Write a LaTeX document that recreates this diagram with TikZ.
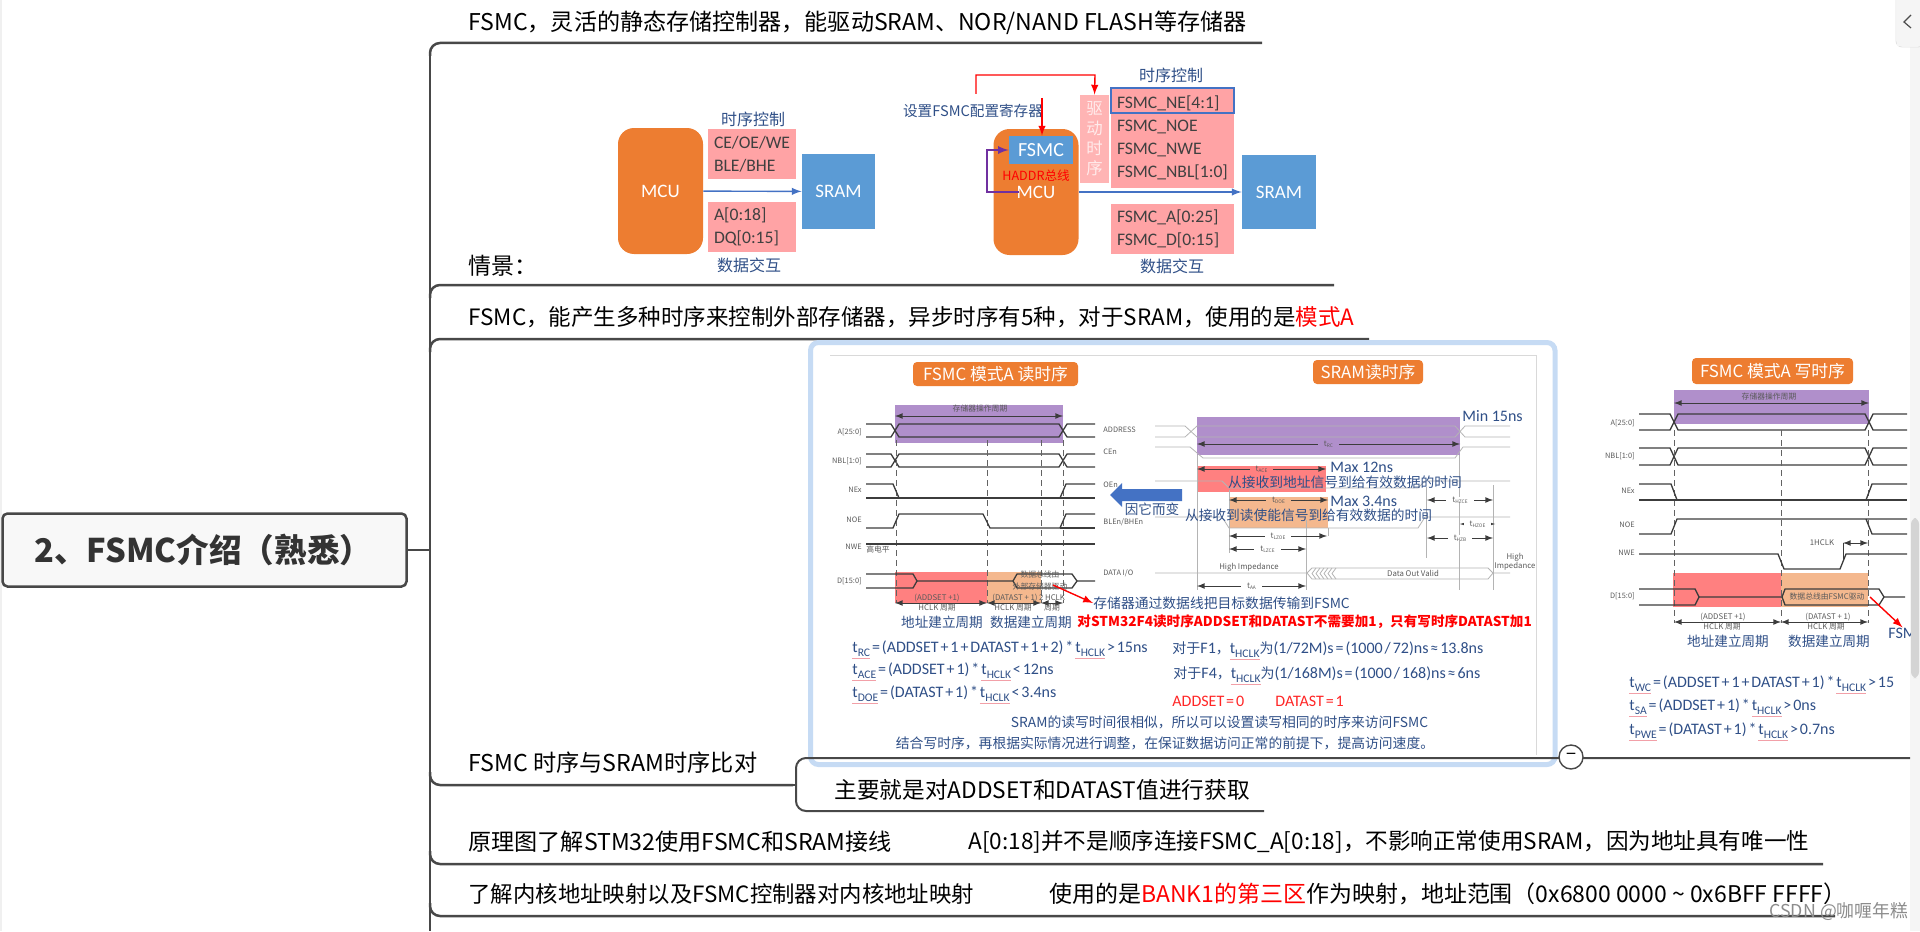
\documentclass[tikz,border=0pt]{standalone}
\usepackage{fontspec}
\setmainfont{Noto Sans CJK SC}
\newfontfamily\lat{Carlito}
\definecolor{linedark}{HTML}{484848}
\definecolor{rootfill}{HTML}{F8F8F8}
\definecolor{framecol}{HTML}{C6DBF4}
\definecolor{orangebox}{HTML}{ED7D31}
\definecolor{bluebox}{HTML}{5B9BD5}
\definecolor{blueline}{HTML}{4472C4}
\definecolor{pinkbox}{HTML}{FFA3A5}
\definecolor{pinklight}{HTML}{FFB4B4}
\definecolor{labelblue}{HTML}{2F4F87}
\definecolor{purplebar}{HTML}{B08FCB}
\definecolor{purpleline}{HTML}{7030A0}
\definecolor{redarea}{HTML}{FF8080}
\definecolor{orangearea}{HTML}{F4B88E}
\definecolor{wavecol}{HTML}{3C3C3C}
\definecolor{sramwave}{HTML}{B4B4B4}
\definecolor{tinytext}{HTML}{5A5A5A}
\definecolor{squiggle}{HTML}{F2A0A8}
\newcommand{\fs}[1]{\fontsize{#1}{#1}\selectfont}
\newcommand{\formfont}{\lat\fs{8}\spaceskip 0.12em\relax}
\newsavebox{\subbox}
\newcommand{\tsub}[1]{\sbox{\subbox}{t\raisebox{-2pt}{\fs{5.8}#1}}\usebox{\subbox}\llap{\color{squiggle}\rule[-3pt]{\wd\subbox}{0.5pt}}}
\newcommand{\tsm}[1]{t\raisebox{-0.5pt}{\fs{2.4}#1}}
\begin{document}
\begin{tikzpicture}[x=0.5pt, y=-0.5pt, every node/.style={inner sep=0pt},
    branchline/.style={draw=linedark, line width=1.25pt},
    twig/.style={draw=linedark, line width=0.8pt},
    branchtext/.style={anchor=west, text=black},
    orangeblock/.style={fill=orangebox, rounded corners=8pt, text=white, font=\lat\fs{9.5}},
    blueblock/.style={fill=bluebox, text=white, font=\lat\fs{9.5}},
    pinkblock/.style={fill=pinkbox, align=left, text=black!75, font=\lat\fontsize{8.8}{11.6}\selectfont},
    navylabel/.style={text=labelblue, font=\fs{8}},
    bluearrow/.style={draw=blueline, line width=0.7pt, -latex},
    redarrow/.style={draw=red, line width=0.7pt, -latex},
    badge/.style={fill=orangebox, rounded corners=2pt, text=white, font=\fs{8.4}},
    tinylabel/.style={text=tinytext, font=\fs{3.9}},
    signame/.style={anchor=east, text=tinytext, font=\fs{3.7}},
    sramname/.style={anchor=west, text=tinytext, font=\fs{3.7}},
    wave/.style={draw=wavecol, line width=0.65pt},
    sramline/.style={draw=sramwave, line width=0.4pt},
    dashline/.style={draw=wavecol!80, line width=0.35pt, densely dashed},
    tinyarrow/.style={draw=wavecol, line width=0.35pt, latex-latex},
    stepname/.style={text=labelblue, font=\fs{6.8}},
    blueformula/.style={anchor=west, text=labelblue, font=\formfont}]
    \useasboundingbox (0,0) rectangle (1920,931);
    \fill[black!6] (0,0) rectangle (2,931);
    \fill[black!4] (1910,47) rectangle (1920,931);

    \node[draw=linedark, line width=1.25pt, fill=rootfill, rounded corners=2.5pt, minimum width=202pt, minimum height=36.5pt] (root) at (204.5,550) {};
    \node[anchor=west, font=\bfseries\fs{16.3}, text=black!80] (roottext) at (34,550) {2、FSMC介绍（熟悉）};
    \coordinate (spinejoin) at (430,550);
    \coordinate (spinetop) at (430,55);
    \coordinate (spineend) at (430,931);
    \draw[twig] (root) -- (spinejoin);
    \draw[branchline] (spinetop) -- (spineend);

    \foreach \y/\xe/\n in {43/1262/a,285/1334/b,339/1369/c}{
        \coordinate (branch\n) at (\xe,\y);
        \draw[branchline, rounded corners=5pt] (430,\y+13) |- (branch\n);
    }
    \foreach \y/\xe/\n in {785/793/d,864/1823/e,916/1835/f}{
        \coordinate (branch\n) at (\xe,\y);
        \draw[branchline, rounded corners=5pt] (430,\y-13) |- (branch\n);
    }

    \node[branchtext, font=\fs{11.54}] (introtext) at (468,23) {FSMC，灵活的静态存储控制器，能驱动SRAM、NOR/NAND FLASH等存储器};
    \node[branchtext, font=\fs{11.5}] (scenetext) at (468,266) {情景：};
    \node[branchtext, font=\fs{11.25}] (modetext) at (468,317) {FSMC，能产生多种时序来控制外部存储器，异步时序有5种，对于SRAM，使用的是{\color{red}模式A}};
    \node[branchtext, font=\fs{11.6}] (comparetext) at (468,763) {FSMC 时序与SRAM时序比对};
    \node[branchtext, font=\fs{11.33}] (valuetext) at (834,790) {主要就是对ADDSET和DATAST值进行获取};
    \node[branchtext, font=\fs{11.56}] (wiretext) at (468,842) {原理图了解STM32使用FSMC和SRAM接线};
    \node[branchtext, font=\fs{11.29}] (wirenote) at (968,842) {A[0:18]并不是顺序连接FSMC\_A[0:18]，不影响正常使用SRAM，因为地址具有唯一性};
    \node[branchtext, font=\fs{11.2}] (maptext) at (468,894) {了解内核地址映射以及FSMC控制器对内核地址映射};
    \node[branchtext, font=\fs{11.48}] (mapnote) at (1049,894) {使用的是{\color{red}BANK1的第三区}作为映射，地址范围（0x6800 0000 \textasciitilde{} 0x6BFF FFFF）};

    \node[orangeblock, minimum width=42.5pt, minimum height=63pt] (mcua) at (660.5,191) {MCU};
    \node[blueblock, minimum width=36.5pt, minimum height=37.5pt] (srama) at (838.5,191.5) {SRAM};
    \node[pinkblock, minimum width=44pt, minimum height=25pt, text width=38pt] (ctrla) at (752,154) {CE/OE/WE\\BLE/BHE};
    \node[pinkblock, minimum width=44pt, minimum height=25pt, text width=38pt] (dataa) at (752,227) {A[0:18]\\DQ[0:15]};
    \node[navylabel] (ctrlnamea) at (753,119) {时序控制};
    \node[navylabel] (datanamea) at (749,265) {数据交互};
    \draw[bluearrow] (mcua) -- (srama);

    \node[orangeblock, minimum width=42.5pt, minimum height=63pt] (mcub) at (1036,192) {};
    \node[text=white, font=\lat\fs{9.5}] (mcuname) at (1036,192) {MCU};
    \node[blueblock, minimum width=32pt, minimum height=14pt, font=\lat\fs{10}] (fsmcb) at (1041,150) {FSMC};
    \node[text=red, font=\fs{6.3}] (haddr) at (1036,176) {HADDR总线};
    \node[blueblock, minimum width=37pt, minimum height=37pt] (sramb) at (1279,192) {SRAM};
    \node[fill=pinklight, minimum width=14.5pt, minimum height=44pt, align=center, text=white!92!red, font=\fontsize{8.2}{10}\selectfont] (drive) at (1094.5,139) {驱\\动\\时\\序};
    \node[pinkblock, minimum width=61.5pt, minimum height=50pt, text width=55.5pt] (ctrlb) at (1172.5,138) {FSMC\_NE[4:1]\\FSMC\_NOE\\FSMC\_NWE\\FSMC\_NBL[1:0]};
    \node[draw=blueline, line width=0.6pt, minimum width=61.5pt, minimum height=12.5pt] (nebox) at (1172.5,100.5) {};
    \node[pinkblock, minimum width=61.5pt, minimum height=25pt, text width=55.5pt] (datab) at (1172.5,229) {FSMC\_A[0:25]\\FSMC\_D[0:15]};
    \node[navylabel] (ctrlnameb) at (1171,75) {时序控制};
    \node[navylabel] (datanameb) at (1172,266) {数据交互};
    \node[navylabel, font=\fs{7.3}] (setreg) at (973,111) {设置FSMC配置寄存器};
    \coordinate (regtop) at (976,94);
    \coordinate (regin) at (1042,98);
    \coordinate (loopout) at (1019,192);
    \draw[bluearrow] (mcub.east |- sramb) -- (sramb);
    \draw[redarrow] (regtop) |- (1095,75) -- (drive.north);
    \draw[redarrow] (regin) -- (regin |- fsmcb.north);
    \draw[draw=purpleline, line width=0.8pt, -latex] (loopout) -- (987,192) |- (fsmcb.west);

    \draw[draw=framecol, line width=2.5pt, fill=white, rounded corners=4pt] (810.5,342.5) rectangle (1555,764.5);
    \draw[black!15, line width=0.4pt] (830,355) -- (1536,355) -- (1536,755);

    \node[badge, minimum width=82.5pt, minimum height=12pt] (readbadge) at (995.5,374) {FSMC 模式A 读时序};
    \node[badge, minimum width=55pt, minimum height=12pt] (srambadge) at (1368,372) {SRAM读时序};
    \node[badge, minimum width=80.5pt, minimum height=13pt] (writebadge) at (1772.5,371) {FSMC 模式A 写时序};

    \fill[purplebar] (895,405) rectangle (1063,443);
    \fill[redarea] (895,572) rectangle (987,603);
    \fill[orangearea] (987,572) rectangle (1041,603);
    \fill[purplebar] (1674,390) rectangle (1869,424);
    \fill[redarea] (1673,573) rectangle (1781,607);
    \fill[orangearea] (1781,573) rectangle (1868,607);
    \fill[purplebar] (1197,417) rectangle (1460,455);
    \fill[redarea] (1197,466) rectangle (1326,492);
    \fill[orangearea] (1229,497) rectangle (1328,528);

    \foreach \xs/\xa/\xb/\xc/\xd/\xe/\u/\l in {866/891/899/1059/1067/1095/424/437,866/891/899/1059/1067/1095/454/467,1639/1670/1678/1865/1873/1907/414/430,1639/1670/1678/1865/1873/1907/448/465}{
        \draw[wave] (\xs,\u) -- (\xa,\u) -- (\xb,\l) -- (\xc,\l) -- (\xd,\u) -- (\xe,\u);
        \draw[wave] (\xs,\l) -- (\xa,\l) -- (\xb,\u) -- (\xc,\u) -- (\xd,\l) -- (\xe,\l);
    }
    \foreach \x in {896,987,1041,1063}
        \draw[dashline] (\x,440) -- (\x,603);
    \foreach \x in {1674,1781,1868}
        \draw[dashline] (\x,430) -- (\x,623);

    \draw[wave] (866,484) -- (893,484) -- (899,498);
    \draw[wave] (866,498) -- (1095,498);
    \draw[wave] (1060,498) -- (1066,484) -- (1095,484);
    \draw[wave] (866,528) -- (893,528) -- (899,514) -- (983,514) -- (990,528) -- (1060,528) -- (1066,514) -- (1095,514);
    \draw[wave] (1060,528) -- (1095,528);
    \draw[wave] (866,544) -- (1095,544);
    \draw[wave] (866,574) -- (913,574) -- (917,581) -- (913,588) -- (866,588);
    \draw[wave] (917,581) -- (1013,581) -- (1017,574) -- (1072,574) -- (1077,581) -- (1095,581);
    \draw[wave] (1013,581) -- (1017,588) -- (1072,588) -- (1077,581);

    \draw[wave] (1639,484) -- (1671,484) -- (1677,500);
    \draw[wave] (1639,500) -- (1907,500);
    \draw[wave] (1866,500) -- (1872,484) -- (1907,484);
    \draw[wave] (1639,534) -- (1671,534) -- (1677,519) -- (1907,519);
    \draw[wave] (1866,519) -- (1872,534) -- (1907,534);
    \draw[wave] (1639,554) -- (1778,554) -- (1784,569) -- (1840,569) -- (1846,554) -- (1907,554);
    \draw[wave] (1639,589) -- (1695,589) -- (1699,597) -- (1695,605) -- (1639,605);
    \draw[wave] (1699,597) -- (1782,597) -- (1785,589) -- (1879,589) -- (1884,597) -- (1905,597);
    \draw[wave] (1782,597) -- (1785,605) -- (1879,605) -- (1884,597);

    \foreach \y/\t in {432/A[25:0],461/NBL[1:0],490/NEx,520/NOE,547/NWE,581/D[15:0]}
        \node[signame] (rd\y) at (862,\y) {\t};
    \foreach \y/\t in {423/A[25:0],456/NBL[1:0],491/NEx,525/NOE,553/NWE,596/D[15:0]}
        \node[signame] (wr\y) at (1635,\y) {\t};
    \foreach \y/\t in {430/ADDRESS,452/CEn,485/OEn,522/BLEn\slash BHEn,573/DATA I\slash O}
        \node[sramname] (sr\y) at (1103,\y) {\t};

    \foreach \xa/\xb/\y in {895/1063/416,1674/1869/403}
        \draw[tinyarrow] (\xa,\y) -- (\xb,\y);
    \node[tinylabel, fill=purplebar, inner xsep=2pt] (opread) at (980,409) {存储器操作周期};
    \node[tinylabel, fill=purplebar, inner xsep=2pt] (opwrite) at (1769,397) {存储器操作周期};
    \node[tinylabel] (highlevel) at (878,550) {高电平};

    \foreach \xa/\xb/\y in {895/987/603,987/1041/603,1041/1063/603,1674/1781/622,1781/1868/622}
        \draw[tinyarrow] (\xa,\y) -- (\xb,\y);
    \foreach \x/\y/\t/\n in {937/598/(ADDSET +1)/a,937/608/HCLK 周期/b,1015/598/(DATAST + 1)/c,1013/608/HCLK 周期/d,1052/598/2 HCLK/e,1052/608/周期/f,1723/617/(ADDSET +1)/g,1722/627/HCLK 周期/h,1828/617/(DATAST + 1)/i,1826/627/HCLK 周期/j,1822/543/1HCLK/k,1827/597/数据总线由FSMC驱动/l}
        \node[tinylabel] (timing\n) at (\x,\y) {\t};
    \node[tinylabel, align=center, font=\fontsize{3.9}{6}\selectfont] (dataread) at (1040,581) {数据总线由\\外部存储器驱动};
    \draw[tinyarrow] (1843,543) -- (1868,543);
    \draw[wave, line width=0.35pt] (1843,543) -- (1843,560);

    \foreach \x/\t/\y/\n in {942/地址建立周期/622/a,1031/数据建立周期/622/b,1728/地址建立周期/641/c,1829/数据建立周期/641/d}
        \node[stepname] (step\n) at (\x,\y) {\t};

    \draw[sramline] (1155,426) -- (1185,426) -- (1197,437) -- (1455,437) -- (1465,426) -- (1510,426);
    \draw[sramline] (1155,437) -- (1185,437) -- (1197,426) -- (1455,426) -- (1465,437) -- (1510,437);
    \draw[sramline] (1155,447) -- (1190,447) -- (1203,458) -- (1455,458) -- (1463,447) -- (1510,447);
    \draw[sramline] (1155,481) -- (1222,481) -- (1229,488) -- (1418,488) -- (1425,481) -- (1510,481);
    \draw[sramline] (1155,517) -- (1222,517) -- (1229,528) -- (1418,528) -- (1425,517) -- (1510,517);
    \draw[sramline] (1155,573) -- (1307,573) -- (1312,568) -- (1488,568) -- (1493,573) -- (1510,573);
    \draw[sramline] (1307,573) -- (1312,579) -- (1488,579) -- (1493,573);
    \foreach \x in {1312,1316,1320,1324,1328,1332}
        \draw[sramline] (\x+4,568) -- (\x,573.5) -- (\x+4,579);
    \foreach \x/\ya/\yb in {1197/455/590,1459/455/590,1426/487/558,1493/485/590,1229/490/553,1306/520/590,1328/528/536}
        \draw[sramline] (\x,\ya) -- (\x,\yb);

    \foreach \xa/\xb/\y/\t/\bg/\n in {1197/1460/444/\tsm{RC}/purplebar/a,1197/1326/469/\tsm{ACE}/redarea/b,1229/1328/500/\tsm{DOE}/orangearea/c,1229/1327/536/\tsm{LZOE}/white/d,1229/1306/549/\tsm{LZCE}/white/e,1197/1306/586/\tsm{AA}/white/f,1427/1493/500/\tsm{HZCE}/white/g,1460/1495/524/\tsm{HZOE}/white/h,1427/1493/538/\tsm{HZB}/white/i}{
        \draw[tinyarrow] (\xa,\y) -- (\xb,\y);
        \node[tinylabel, fill=\bg, inner xsep=3pt] (span\n) at ({(\xa+\xb)/2},\y) {\t};
    }
    \node[tinylabel] (hiz) at (1249,567) {High Impedance};
    \node[tinylabel, fill=white, inner xsep=1pt] (valid) at (1413,573) {Data Out Valid};
    \node[tinylabel, align=center, font=\fontsize{3.9}{4.6}\selectfont] (hizb) at (1515,562) {High\\Impedance};

    \node[text=labelblue, anchor=west, font=\lat\fs{8}] (min15) at (1462,416) {Min 15ns};
    \node[text=labelblue, anchor=west, font=\lat\fs{8}] (max12) at (1330,467) {Max 12ns};
    \node[text=labelblue, anchor=west, font=\lat\fs{8}] (max34) at (1330,501) {Max 3.4ns};
    \node[text=labelblue, font=\fs{6.88}] (addrnote) at (1345,482) {从接收到地址信号到给有效数据的时间};
    \node[text=labelblue, font=\fs{6.86}] (oenote) at (1308.5,515) {从接收到读使能信号到给有效数据的时间};
    \node[text=labelblue, font=\fs{6.8}] (cause) at (1152,509) {因它而变};
    \fill[blueline] (1110,495) -- (1122,483) -- (1122,489) -- (1182,489) -- (1182,501) -- (1122,501) -- (1122,507) -- cycle;

    \node[text=labelblue, anchor=west, font=\fs{6.9}] (busnote) at (1093,603) {存储器通过数据线把目标数据传输到FSMC};
    \node[text=red, anchor=west, font=\bfseries\fs{6.8}] (plusnote) at (1077,622) {对STM32F4读时序ADDSET和DATAST不需要加1，只有写时序DATAST加1};
    \coordinate (busfrom) at (1053,585);
    \draw[redarrow] (busfrom) -- (busnote.west);
    \coordinate (writefrom) at (1870,597);
    \node[text=labelblue, anchor=west, font=\lat\fs{8}] (fsmcclip) at (1888,633) {FSM};
    \draw[redarrow] (writefrom) -- (fsmcclip.north);

    \node[blueformula] (frc) at (852,650) {\tsub{RC} = (ADDSET + 1 + DATAST + 1 + 2) * \tsub{HCLK} > 15ns};
    \node[blueformula] (face) at (852,672) {\tsub{ACE} = (ADDSET + 1) * \tsub{HCLK} < 12ns};
    \node[blueformula] (fdoe) at (852,695) {\tsub{DOE} = (DATAST + 1) * \tsub{HCLK} < 3.4ns};
    \node[blueformula] (ff1) at (1172,651) {{\rmfamily\fs{7}对于}F1{\rmfamily\fs{7}，}\tsub{HCLK}{\rmfamily\fs{7}为}(1/72M)s = (1000 / 72)ns ≈ 13.8ns};
    \node[blueformula] (ff4) at (1173,676) {{\rmfamily\fs{7}对于}F4{\rmfamily\fs{7}，}\tsub{HCLK}{\rmfamily\fs{7}为}(1/168M)s = (1000 / 168)ns ≈ 6ns};
    \node[blueformula, text=red!85!white] (fadd) at (1172,701) {ADDSET = 0};
    \node[blueformula, text=red!85!white] (fdat) at (1275,701) {DATAST = 1};
    \node[text=labelblue, font=\fs{6.9}] (similar) at (1219.5,722) {SRAM的读写时间很相似，所以可以设置读写相同的时序来访问FSMC};
    \node[text=labelblue, font=\fs{6.9}] (adjust) at (1165,743) {结合写时序，再根据实际情况进行调整，在保证数据访问正常的前提下，提高访问速度。};
    \node[blueformula] (fwc) at (1629,685) {\tsub{WC} = (ADDSET + 1 + DATAST + 1) * \tsub{HCLK} > 15};
    \node[blueformula] (fsa) at (1629,708) {\tsub{SA} = (ADDSET + 1) * \tsub{HCLK} > 0ns};
    \node[blueformula] (fpwe) at (1629,732) {\tsub{PWE} = (DATAST + 1) * \tsub{HCLK} > 0.7ns};

    \coordinate (subend) at (1264,811);
    \coordinate (linkend) at (1910,758);
    \coordinate (subjoin) at (796,785);
    \draw[twig] (branchd) -- (subjoin);
    \draw[branchline, line width=1pt, rounded corners=5pt] (linkend) -- (796,758) -- (796,811) -- (subend);
    \node[draw=linedark, fill=white, circle, line width=0.7pt, minimum size=12pt, font=\fs{9}] (collapse) at (1571,757) {−};

    \fill[white, draw=black!12, rounded corners=3pt] (1896,-6) rectangle (1924,47);
    \fill[black!4] (1897,0) rectangle (1920,46);
    \draw[black!70, line width=0.6pt] (1911,15) -- (1904,22) -- (1911,28);
    \fill[black!17, rounded corners=3pt] (1911,518) rectangle (1919,678);
    \node[text=black!45, anchor=west, font=\fs{8.9}] (mark) at (1769,912) {CSDN @咖喱年糕};
\end{tikzpicture}
\end{document}
